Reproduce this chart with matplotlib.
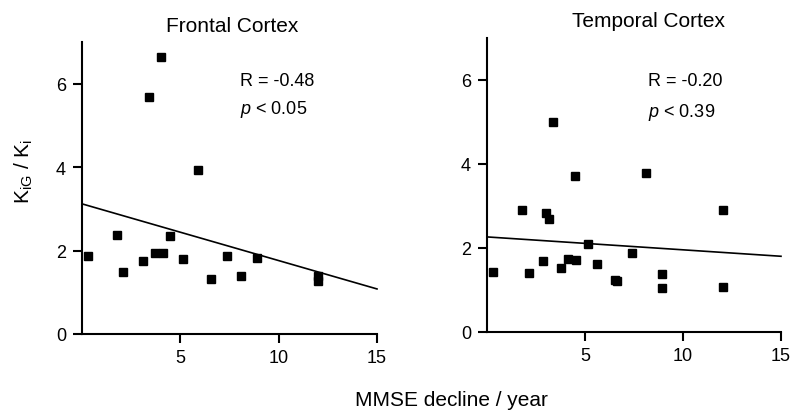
import matplotlib
matplotlib.use("Agg")
import matplotlib.pyplot as plt
import numpy as np

plt.rcParams['font.family'] = ['Liberation Sans', 'DejaVu Sans']
plt.rcParams['mathtext.fontset'] = 'custom'
plt.rcParams['mathtext.rm'] = 'Liberation Sans'
plt.rcParams['mathtext.it'] = 'Liberation Sans:italic'

# ---- data ----
frontal_x = [0.32, 4.02, 3.41, 5.91, 1.76, 4.48, 2.09, 3.11, 3.73, 4.14, 5.14, 6.54, 7.38, 8.11, 8.90, 11.98, 11.98]
frontal_y = [1.88, 6.63, 5.69, 3.93, 2.38, 2.35, 1.49, 1.75, 1.93, 1.93, 1.80, 1.32, 1.88, 1.38, 1.83, 1.38, 1.28]
frontal_fit = [3.12, 1.08]   # line value at x=0 and x=15
frontal_stats = ["R = -0.48", r"$p$ < 0.05"]

temporal_x = [0.29, 1.77, 2.12, 2.85, 3.01, 3.15, 3.37, 3.75, 4.14, 4.53, 4.48, 5.15, 5.61, 6.55, 6.63, 7.39, 8.11, 8.95, 8.95, 12.02, 12.02]
temporal_y = [1.43, 2.89, 1.41, 1.69, 2.84, 2.69, 4.98, 1.53, 1.74, 1.72, 3.70, 2.10, 1.61, 1.24, 1.21, 1.87, 3.77, 1.38, 1.04, 2.89, 1.06]
temporal_fit = [2.26, 1.80]
temporal_stats = ["R = -0.20", r"$p$ < 0.39"]

fit_x = [0, 15]
xticks = [5, 10, 15]
yticks = [0, 2, 4, 6]

W, H = 792, 414
fig = plt.figure(figsize=(W / 100, H / 100), dpi=100)

def fx(px):
    return px / W

def fy(py):
    return (H - py) / H

axL = fig.add_axes([fx(82), fy(335), fx(377) - fx(82), fy(43) - fy(335)])
axR = fig.add_axes([fx(487), fy(333), fx(781) - fx(487), fy(38.5) - fy(333)])

for ax, xs, ys, fit in [(axL, frontal_x, frontal_y, frontal_fit),
                        (axR, temporal_x, temporal_y, temporal_fit)]:
    ax.plot(xs, ys, 's', color='black', markersize=5.2, clip_on=False, zorder=3)
    ax.plot(fit_x, fit, '-', color='black', linewidth=1.2, clip_on=False)
    ax.set_xlim(0, 15)
    ax.set_ylim(0, 7)
    ax.set_xticks(xticks)
    ax.set_yticks(yticks)
    for s in ['top', 'right']:
        ax.spines[s].set_visible(False)
    for s in ['left', 'bottom']:
        ax.spines[s].set_linewidth(1.5)
    ax.tick_params(direction='out', length=6.5, width=1.5, labelsize=13, pad=4)
    ax.tick_params(axis='y', pad=5)

axL.set_ylabel(r'K$_{\mathrm{iG}}$ / K$_{\mathrm{i}}$', fontsize=15)
axL.yaxis.set_label_coords(-0.16, 0.56)

# titles
fig.text(fx(232), fy(32), "Frontal Cortex", ha='center', va='baseline', fontsize=15)
fig.text(fx(648), fy(27), "Temporal Cortex", ha='center', va='baseline', fontsize=15)

# stats
fig.text(fx(240), fy(86), frontal_stats[0], ha='left', va='baseline', fontsize=13)
fig.text(fx(240), fy(114), frontal_stats[1], ha='left', va='baseline', fontsize=13)
fig.text(fx(648), fy(86), temporal_stats[0], ha='left', va='baseline', fontsize=13)
fig.text(fx(648), fy(117), temporal_stats[1], ha='left', va='baseline', fontsize=13)

# shared x label
fig.text(fx(451), fy(406), "MMSE decline / year", ha='center', va='baseline', fontsize=15)

fig.savefig("out.png", dpi=100)
